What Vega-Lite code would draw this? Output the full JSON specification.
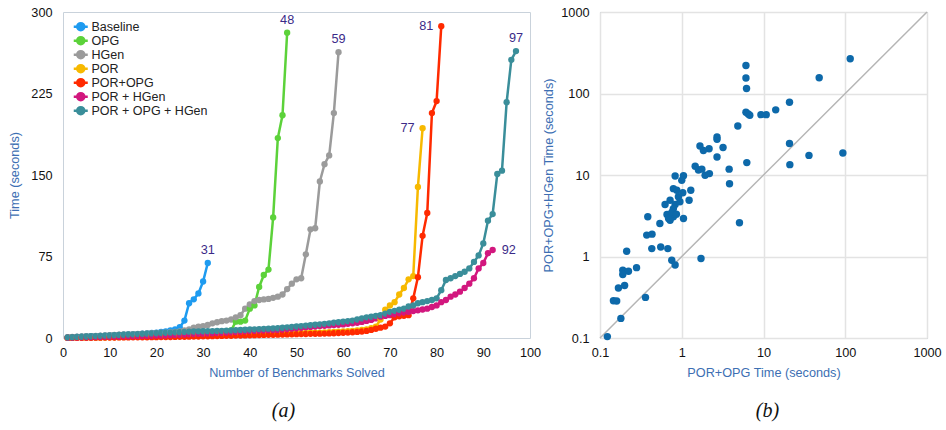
{
"$schema": "https://vega.github.io/schema/vega-lite/v6.json",
"background": "white",
"padding": {"left": 8, "top": 5, "right": 0, "bottom": 0},
"spacing": 0,
"resolve": {"scale": {"color": "independent"}, "legend": {"color": "independent"}},
"config": {
  "font": "Liberation Sans",
  "axis": {"labelFont": "Liberation Sans", "labelFontSize": 12.7, "labelColor": "#111111", "titleFont": "Liberation Sans", "titleFontSize": 12.7, "titleFontWeight": "normal", "titleColor": "#3d6fb3", "domain": false, "ticks": false, "grid": false, "labelPadding": 10, "titlePadding": 9, "labelFlush": false, "labelOverlap": false}
},
"datasets": {
"cactus": [
{"series":"Baseline","n":1,"t":0.5},{"series":"Baseline","n":2,"t":0.8},{"series":"Baseline","n":3,"t":1},{"series":"Baseline","n":4,"t":1.2},{"series":"Baseline","n":5,"t":1.4},{"series":"Baseline","n":6,"t":1.6},{"series":"Baseline","n":7,"t":1.8},{"series":"Baseline","n":8,"t":2},{"series":"Baseline","n":9,"t":2.2},{"series":"Baseline","n":10,"t":2.4},{"series":"Baseline","n":11,"t":2.6},{"series":"Baseline","n":12,"t":2.8},{"series":"Baseline","n":13,"t":3},{"series":"Baseline","n":14,"t":3.2},{"series":"Baseline","n":15,"t":3.4},{"series":"Baseline","n":16,"t":3.6},{"series":"Baseline","n":17,"t":3.9},{"series":"Baseline","n":18,"t":4.2},{"series":"Baseline","n":19,"t":4.6},{"series":"Baseline","n":20,"t":5},{"series":"Baseline","n":21,"t":5.5},{"series":"Baseline","n":22,"t":6},{"series":"Baseline","n":23,"t":7},{"series":"Baseline","n":24,"t":8},{"series":"Baseline","n":25,"t":10},{"series":"Baseline","n":26,"t":16},{"series":"Baseline","n":27,"t":32},{"series":"Baseline","n":28,"t":35.6},{"series":"Baseline","n":29,"t":41},{"series":"Baseline","n":30,"t":52},{"series":"Baseline","n":31,"t":69},
{"series":"OPG","n":1,"t":0.2},{"series":"OPG","n":2,"t":0.3},{"series":"OPG","n":3,"t":0.4},{"series":"OPG","n":4,"t":0.5},{"series":"OPG","n":5,"t":0.5},{"series":"OPG","n":6,"t":0.6},{"series":"OPG","n":7,"t":0.7},{"series":"OPG","n":8,"t":0.8},{"series":"OPG","n":9,"t":0.9},{"series":"OPG","n":10,"t":1},{"series":"OPG","n":11,"t":1.1},{"series":"OPG","n":12,"t":1.2},{"series":"OPG","n":13,"t":1.3},{"series":"OPG","n":14,"t":1.4},{"series":"OPG","n":15,"t":1.5},{"series":"OPG","n":16,"t":1.6},{"series":"OPG","n":17,"t":1.7},{"series":"OPG","n":18,"t":1.8},{"series":"OPG","n":19,"t":2},{"series":"OPG","n":20,"t":2.2},{"series":"OPG","n":21,"t":2.4},{"series":"OPG","n":22,"t":2.6},{"series":"OPG","n":23,"t":2.8},{"series":"OPG","n":24,"t":3},{"series":"OPG","n":25,"t":3.2},{"series":"OPG","n":26,"t":3.4},{"series":"OPG","n":27,"t":3.6},{"series":"OPG","n":28,"t":3.8},{"series":"OPG","n":29,"t":4},{"series":"OPG","n":30,"t":4.2},{"series":"OPG","n":31,"t":4.4},{"series":"OPG","n":32,"t":4.6},{"series":"OPG","n":33,"t":4.8},{"series":"OPG","n":34,"t":5},{"series":"OPG","n":35,"t":5.4},{"series":"OPG","n":36,"t":7},{"series":"OPG","n":37,"t":15},{"series":"OPG","n":38,"t":15},{"series":"OPG","n":39,"t":16},{"series":"OPG","n":40,"t":27},{"series":"OPG","n":41,"t":30},{"series":"OPG","n":42,"t":47},{"series":"OPG","n":43,"t":58},{"series":"OPG","n":44,"t":63},{"series":"OPG","n":45,"t":111},{"series":"OPG","n":46,"t":184},{"series":"OPG","n":47,"t":205},{"series":"OPG","n":48,"t":281},
{"series":"HGen","n":1,"t":0.8},{"series":"HGen","n":2,"t":1},{"series":"HGen","n":3,"t":1.2},{"series":"HGen","n":4,"t":1.4},{"series":"HGen","n":5,"t":1.6},{"series":"HGen","n":6,"t":1.8},{"series":"HGen","n":7,"t":2},{"series":"HGen","n":8,"t":2.2},{"series":"HGen","n":9,"t":2.4},{"series":"HGen","n":10,"t":2.6},{"series":"HGen","n":11,"t":2.8},{"series":"HGen","n":12,"t":3},{"series":"HGen","n":13,"t":3.2},{"series":"HGen","n":14,"t":3.4},{"series":"HGen","n":15,"t":3.6},{"series":"HGen","n":16,"t":3.8},{"series":"HGen","n":17,"t":4},{"series":"HGen","n":18,"t":4.2},{"series":"HGen","n":19,"t":4.4},{"series":"HGen","n":20,"t":4.6},{"series":"HGen","n":21,"t":4.8},{"series":"HGen","n":22,"t":5},{"series":"HGen","n":23,"t":5.3},{"series":"HGen","n":24,"t":5.6},{"series":"HGen","n":25,"t":6},{"series":"HGen","n":26,"t":7},{"series":"HGen","n":27,"t":8},{"series":"HGen","n":28,"t":9.5},{"series":"HGen","n":29,"t":10.5},{"series":"HGen","n":30,"t":11},{"series":"HGen","n":31,"t":12},{"series":"HGen","n":32,"t":13.5},{"series":"HGen","n":33,"t":14.5},{"series":"HGen","n":34,"t":15.5},{"series":"HGen","n":35,"t":16},{"series":"HGen","n":36,"t":17},{"series":"HGen","n":37,"t":19},{"series":"HGen","n":38,"t":21},{"series":"HGen","n":39,"t":27},{"series":"HGen","n":40,"t":31},{"series":"HGen","n":41,"t":34},{"series":"HGen","n":42,"t":35},{"series":"HGen","n":43,"t":35.5},{"series":"HGen","n":44,"t":36},{"series":"HGen","n":45,"t":37},{"series":"HGen","n":46,"t":38},{"series":"HGen","n":47,"t":40},{"series":"HGen","n":48,"t":45},{"series":"HGen","n":49,"t":50},{"series":"HGen","n":50,"t":54},{"series":"HGen","n":51,"t":55},{"series":"HGen","n":52,"t":77},{"series":"HGen","n":53,"t":100},{"series":"HGen","n":54,"t":101},{"series":"HGen","n":55,"t":144},{"series":"HGen","n":56,"t":160},{"series":"HGen","n":57,"t":168},{"series":"HGen","n":58,"t":207},{"series":"HGen","n":59,"t":263},
{"series":"POR","n":1,"t":0.1},{"series":"POR","n":2,"t":0.2},{"series":"POR","n":3,"t":0.2},{"series":"POR","n":4,"t":0.3},{"series":"POR","n":5,"t":0.3},{"series":"POR","n":6,"t":0.4},{"series":"POR","n":7,"t":0.4},{"series":"POR","n":8,"t":0.5},{"series":"POR","n":9,"t":0.5},{"series":"POR","n":10,"t":0.6},{"series":"POR","n":11,"t":0.7},{"series":"POR","n":12,"t":0.8},{"series":"POR","n":13,"t":0.9},{"series":"POR","n":14,"t":1},{"series":"POR","n":15,"t":1},{"series":"POR","n":16,"t":1.1},{"series":"POR","n":17,"t":1.2},{"series":"POR","n":18,"t":1.3},{"series":"POR","n":19,"t":1.4},{"series":"POR","n":20,"t":1.5},{"series":"POR","n":21,"t":1.6},{"series":"POR","n":22,"t":1.7},{"series":"POR","n":23,"t":1.8},{"series":"POR","n":24,"t":1.9},{"series":"POR","n":25,"t":2},{"series":"POR","n":26,"t":2.1},{"series":"POR","n":27,"t":2.2},{"series":"POR","n":28,"t":2.3},{"series":"POR","n":29,"t":2.4},{"series":"POR","n":30,"t":2.5},{"series":"POR","n":31,"t":2.6},{"series":"POR","n":32,"t":2.7},{"series":"POR","n":33,"t":2.8},{"series":"POR","n":34,"t":2.9},{"series":"POR","n":35,"t":3},{"series":"POR","n":36,"t":3.1},{"series":"POR","n":37,"t":3.2},{"series":"POR","n":38,"t":3.3},{"series":"POR","n":39,"t":3.4},{"series":"POR","n":40,"t":3.5},{"series":"POR","n":41,"t":3.6},{"series":"POR","n":42,"t":3.7},{"series":"POR","n":43,"t":3.8},{"series":"POR","n":44,"t":3.9},{"series":"POR","n":45,"t":4},{"series":"POR","n":46,"t":4.1},{"series":"POR","n":47,"t":4.2},{"series":"POR","n":48,"t":4.3},{"series":"POR","n":49,"t":4.4},{"series":"POR","n":50,"t":4.5},{"series":"POR","n":51,"t":4.6},{"series":"POR","n":52,"t":4.7},{"series":"POR","n":53,"t":4.8},{"series":"POR","n":54,"t":4.9},{"series":"POR","n":55,"t":5},{"series":"POR","n":56,"t":5.2},{"series":"POR","n":57,"t":5.4},{"series":"POR","n":58,"t":5.6},{"series":"POR","n":59,"t":5.8},{"series":"POR","n":60,"t":6},{"series":"POR","n":61,"t":6.3},{"series":"POR","n":62,"t":6.6},{"series":"POR","n":63,"t":7},{"series":"POR","n":64,"t":7.5},{"series":"POR","n":65,"t":8},{"series":"POR","n":66,"t":9},{"series":"POR","n":67,"t":10.5},{"series":"POR","n":68,"t":17},{"series":"POR","n":69,"t":26},{"series":"POR","n":70,"t":30},{"series":"POR","n":71,"t":33},{"series":"POR","n":72,"t":40},{"series":"POR","n":73,"t":46},{"series":"POR","n":74,"t":54},{"series":"POR","n":75,"t":57},{"series":"POR","n":76,"t":139},{"series":"POR","n":77,"t":193},
{"series":"POR+OPG","n":1,"t":0.1},{"series":"POR+OPG","n":2,"t":0.1},{"series":"POR+OPG","n":3,"t":0.15},{"series":"POR+OPG","n":4,"t":0.2},{"series":"POR+OPG","n":5,"t":0.2},{"series":"POR+OPG","n":6,"t":0.25},{"series":"POR+OPG","n":7,"t":0.3},{"series":"POR+OPG","n":8,"t":0.3},{"series":"POR+OPG","n":9,"t":0.35},{"series":"POR+OPG","n":10,"t":0.4},{"series":"POR+OPG","n":11,"t":0.45},{"series":"POR+OPG","n":12,"t":0.5},{"series":"POR+OPG","n":13,"t":0.5},{"series":"POR+OPG","n":14,"t":0.55},{"series":"POR+OPG","n":15,"t":0.6},{"series":"POR+OPG","n":16,"t":0.65},{"series":"POR+OPG","n":17,"t":0.7},{"series":"POR+OPG","n":18,"t":0.7},{"series":"POR+OPG","n":19,"t":0.75},{"series":"POR+OPG","n":20,"t":0.8},{"series":"POR+OPG","n":21,"t":0.85},{"series":"POR+OPG","n":22,"t":0.9},{"series":"POR+OPG","n":23,"t":0.95},{"series":"POR+OPG","n":24,"t":1},{"series":"POR+OPG","n":25,"t":1.05},{"series":"POR+OPG","n":26,"t":1.1},{"series":"POR+OPG","n":27,"t":1.2},{"series":"POR+OPG","n":28,"t":1.3},{"series":"POR+OPG","n":29,"t":1.4},{"series":"POR+OPG","n":30,"t":1.5},{"series":"POR+OPG","n":31,"t":1.6},{"series":"POR+OPG","n":32,"t":1.7},{"series":"POR+OPG","n":33,"t":1.8},{"series":"POR+OPG","n":34,"t":1.9},{"series":"POR+OPG","n":35,"t":2},{"series":"POR+OPG","n":36,"t":2.1},{"series":"POR+OPG","n":37,"t":2.2},{"series":"POR+OPG","n":38,"t":2.3},{"series":"POR+OPG","n":39,"t":2.4},{"series":"POR+OPG","n":40,"t":2.5},{"series":"POR+OPG","n":41,"t":2.6},{"series":"POR+OPG","n":42,"t":2.7},{"series":"POR+OPG","n":43,"t":2.8},{"series":"POR+OPG","n":44,"t":2.9},{"series":"POR+OPG","n":45,"t":3},{"series":"POR+OPG","n":46,"t":3.1},{"series":"POR+OPG","n":47,"t":3.2},{"series":"POR+OPG","n":48,"t":3.3},{"series":"POR+OPG","n":49,"t":3.4},{"series":"POR+OPG","n":50,"t":3.5},{"series":"POR+OPG","n":51,"t":3.6},{"series":"POR+OPG","n":52,"t":3.7},{"series":"POR+OPG","n":53,"t":3.8},{"series":"POR+OPG","n":54,"t":3.9},{"series":"POR+OPG","n":55,"t":4},{"series":"POR+OPG","n":56,"t":4.1},{"series":"POR+OPG","n":57,"t":4.2},{"series":"POR+OPG","n":58,"t":4.4},{"series":"POR+OPG","n":59,"t":4.6},{"series":"POR+OPG","n":60,"t":4.8},{"series":"POR+OPG","n":61,"t":5},{"series":"POR+OPG","n":62,"t":5.3},{"series":"POR+OPG","n":63,"t":5.6},{"series":"POR+OPG","n":64,"t":6},{"series":"POR+OPG","n":65,"t":6.5},{"series":"POR+OPG","n":66,"t":7.4},{"series":"POR+OPG","n":67,"t":8.5},{"series":"POR+OPG","n":68,"t":9.5},{"series":"POR+OPG","n":69,"t":10.5},{"series":"POR+OPG","n":70,"t":13.5},{"series":"POR+OPG","n":71,"t":19},{"series":"POR+OPG","n":72,"t":20},{"series":"POR+OPG","n":73,"t":20.5},{"series":"POR+OPG","n":74,"t":21},{"series":"POR+OPG","n":75,"t":36.5},{"series":"POR+OPG","n":76,"t":56},{"series":"POR+OPG","n":77,"t":94},{"series":"POR+OPG","n":78,"t":115},{"series":"POR+OPG","n":79,"t":207},{"series":"POR+OPG","n":80,"t":218},{"series":"POR+OPG","n":81,"t":287},
{"series":"POR + HGen","n":1,"t":0.3},{"series":"POR + HGen","n":2,"t":0.4},{"series":"POR + HGen","n":3,"t":0.5},{"series":"POR + HGen","n":4,"t":0.6},{"series":"POR + HGen","n":5,"t":0.7},{"series":"POR + HGen","n":6,"t":0.8},{"series":"POR + HGen","n":7,"t":0.9},{"series":"POR + HGen","n":8,"t":1},{"series":"POR + HGen","n":9,"t":1.1},{"series":"POR + HGen","n":10,"t":1.2},{"series":"POR + HGen","n":11,"t":1.3},{"series":"POR + HGen","n":12,"t":1.4},{"series":"POR + HGen","n":13,"t":1.5},{"series":"POR + HGen","n":14,"t":1.6},{"series":"POR + HGen","n":15,"t":1.7},{"series":"POR + HGen","n":16,"t":1.8},{"series":"POR + HGen","n":17,"t":1.9},{"series":"POR + HGen","n":18,"t":2},{"series":"POR + HGen","n":19,"t":2.1},{"series":"POR + HGen","n":20,"t":2.2},{"series":"POR + HGen","n":21,"t":2.3},{"series":"POR + HGen","n":22,"t":2.4},{"series":"POR + HGen","n":23,"t":2.6},{"series":"POR + HGen","n":24,"t":2.8},{"series":"POR + HGen","n":25,"t":3},{"series":"POR + HGen","n":26,"t":3.2},{"series":"POR + HGen","n":27,"t":3.4},{"series":"POR + HGen","n":28,"t":3.6},{"series":"POR + HGen","n":29,"t":3.8},{"series":"POR + HGen","n":30,"t":4},{"series":"POR + HGen","n":31,"t":4.2},{"series":"POR + HGen","n":32,"t":4.4},{"series":"POR + HGen","n":33,"t":4.6},{"series":"POR + HGen","n":34,"t":4.8},{"series":"POR + HGen","n":35,"t":5},{"series":"POR + HGen","n":36,"t":5.2},{"series":"POR + HGen","n":37,"t":5.5},{"series":"POR + HGen","n":38,"t":5.8},{"series":"POR + HGen","n":39,"t":6.1},{"series":"POR + HGen","n":40,"t":6.4},{"series":"POR + HGen","n":41,"t":6.6},{"series":"POR + HGen","n":42,"t":6.8},{"series":"POR + HGen","n":43,"t":7},{"series":"POR + HGen","n":44,"t":7.2},{"series":"POR + HGen","n":45,"t":7.3},{"series":"POR + HGen","n":46,"t":7.4},{"series":"POR + HGen","n":47,"t":7.8},{"series":"POR + HGen","n":48,"t":8.2},{"series":"POR + HGen","n":49,"t":8.6},{"series":"POR + HGen","n":50,"t":9},{"series":"POR + HGen","n":51,"t":9.4},{"series":"POR + HGen","n":52,"t":9.8},{"series":"POR + HGen","n":53,"t":10.2},{"series":"POR + HGen","n":54,"t":10.6},{"series":"POR + HGen","n":55,"t":11},{"series":"POR + HGen","n":56,"t":11.3},{"series":"POR + HGen","n":57,"t":11.6},{"series":"POR + HGen","n":58,"t":11.9},{"series":"POR + HGen","n":59,"t":12.2},{"series":"POR + HGen","n":60,"t":12.5},{"series":"POR + HGen","n":61,"t":13},{"series":"POR + HGen","n":62,"t":13.5},{"series":"POR + HGen","n":63,"t":14},{"series":"POR + HGen","n":64,"t":14.8},{"series":"POR + HGen","n":65,"t":15.7},{"series":"POR + HGen","n":66,"t":16.6},{"series":"POR + HGen","n":67,"t":18},{"series":"POR + HGen","n":68,"t":19.6},{"series":"POR + HGen","n":69,"t":20.3},{"series":"POR + HGen","n":70,"t":21},{"series":"POR + HGen","n":71,"t":21.8},{"series":"POR + HGen","n":72,"t":22.7},{"series":"POR + HGen","n":73,"t":23.4},{"series":"POR + HGen","n":74,"t":24},{"series":"POR + HGen","n":75,"t":24.8},{"series":"POR + HGen","n":76,"t":25.5},{"series":"POR + HGen","n":77,"t":26.2},{"series":"POR + HGen","n":78,"t":27},{"series":"POR + HGen","n":79,"t":28.5},{"series":"POR + HGen","n":80,"t":30},{"series":"POR + HGen","n":81,"t":33},{"series":"POR + HGen","n":82,"t":35},{"series":"POR + HGen","n":83,"t":38},{"series":"POR + HGen","n":84,"t":40},{"series":"POR + HGen","n":85,"t":42.6},{"series":"POR + HGen","n":86,"t":46},{"series":"POR + HGen","n":87,"t":50},{"series":"POR + HGen","n":88,"t":55},{"series":"POR + HGen","n":89,"t":64},{"series":"POR + HGen","n":90,"t":69},{"series":"POR + HGen","n":91,"t":78},{"series":"POR + HGen","n":92,"t":81},
{"series":"POR + OPG + HGen","n":1,"t":0.5},{"series":"POR + OPG + HGen","n":2,"t":0.8},{"series":"POR + OPG + HGen","n":3,"t":1},{"series":"POR + OPG + HGen","n":4,"t":1.2},{"series":"POR + OPG + HGen","n":5,"t":1.4},{"series":"POR + OPG + HGen","n":6,"t":1.6},{"series":"POR + OPG + HGen","n":7,"t":1.8},{"series":"POR + OPG + HGen","n":8,"t":2},{"series":"POR + OPG + HGen","n":9,"t":2.2},{"series":"POR + OPG + HGen","n":10,"t":2.4},{"series":"POR + OPG + HGen","n":11,"t":2.6},{"series":"POR + OPG + HGen","n":12,"t":2.8},{"series":"POR + OPG + HGen","n":13,"t":3},{"series":"POR + OPG + HGen","n":14,"t":3.2},{"series":"POR + OPG + HGen","n":15,"t":3.4},{"series":"POR + OPG + HGen","n":16,"t":3.6},{"series":"POR + OPG + HGen","n":17,"t":3.8},{"series":"POR + OPG + HGen","n":18,"t":4},{"series":"POR + OPG + HGen","n":19,"t":4.2},{"series":"POR + OPG + HGen","n":20,"t":4.4},{"series":"POR + OPG + HGen","n":21,"t":4.6},{"series":"POR + OPG + HGen","n":22,"t":4.8},{"series":"POR + OPG + HGen","n":23,"t":5},{"series":"POR + OPG + HGen","n":24,"t":5.2},{"series":"POR + OPG + HGen","n":25,"t":5.4},{"series":"POR + OPG + HGen","n":26,"t":5.6},{"series":"POR + OPG + HGen","n":27,"t":5.8},{"series":"POR + OPG + HGen","n":28,"t":6},{"series":"POR + OPG + HGen","n":29,"t":6.1},{"series":"POR + OPG + HGen","n":30,"t":6.2},{"series":"POR + OPG + HGen","n":31,"t":6.3},{"series":"POR + OPG + HGen","n":32,"t":6.4},{"series":"POR + OPG + HGen","n":33,"t":6.5},{"series":"POR + OPG + HGen","n":34,"t":6.6},{"series":"POR + OPG + HGen","n":35,"t":6.8},{"series":"POR + OPG + HGen","n":36,"t":7},{"series":"POR + OPG + HGen","n":37,"t":7.2},{"series":"POR + OPG + HGen","n":38,"t":7.4},{"series":"POR + OPG + HGen","n":39,"t":7.6},{"series":"POR + OPG + HGen","n":40,"t":7.8},{"series":"POR + OPG + HGen","n":41,"t":8},{"series":"POR + OPG + HGen","n":42,"t":8.2},{"series":"POR + OPG + HGen","n":43,"t":8.4},{"series":"POR + OPG + HGen","n":44,"t":8.6},{"series":"POR + OPG + HGen","n":45,"t":8.8},{"series":"POR + OPG + HGen","n":46,"t":9},{"series":"POR + OPG + HGen","n":47,"t":9.4},{"series":"POR + OPG + HGen","n":48,"t":9.8},{"series":"POR + OPG + HGen","n":49,"t":10.2},{"series":"POR + OPG + HGen","n":50,"t":10.6},{"series":"POR + OPG + HGen","n":51,"t":11},{"series":"POR + OPG + HGen","n":52,"t":11.4},{"series":"POR + OPG + HGen","n":53,"t":11.8},{"series":"POR + OPG + HGen","n":54,"t":12.2},{"series":"POR + OPG + HGen","n":55,"t":12.6},{"series":"POR + OPG + HGen","n":56,"t":13},{"series":"POR + OPG + HGen","n":57,"t":13.5},{"series":"POR + OPG + HGen","n":58,"t":14},{"series":"POR + OPG + HGen","n":59,"t":14.5},{"series":"POR + OPG + HGen","n":60,"t":15},{"series":"POR + OPG + HGen","n":61,"t":15.5},{"series":"POR + OPG + HGen","n":62,"t":16},{"series":"POR + OPG + HGen","n":63,"t":17},{"series":"POR + OPG + HGen","n":64,"t":18},{"series":"POR + OPG + HGen","n":65,"t":19},{"series":"POR + OPG + HGen","n":66,"t":19.6},{"series":"POR + OPG + HGen","n":67,"t":20.3},{"series":"POR + OPG + HGen","n":68,"t":21},{"series":"POR + OPG + HGen","n":69,"t":22.5},{"series":"POR + OPG + HGen","n":70,"t":24},{"series":"POR + OPG + HGen","n":71,"t":25},{"series":"POR + OPG + HGen","n":72,"t":26},{"series":"POR + OPG + HGen","n":73,"t":27},{"series":"POR + OPG + HGen","n":74,"t":29},{"series":"POR + OPG + HGen","n":75,"t":30},{"series":"POR + OPG + HGen","n":76,"t":32},{"series":"POR + OPG + HGen","n":77,"t":33},{"series":"POR + OPG + HGen","n":78,"t":34},{"series":"POR + OPG + HGen","n":79,"t":35},{"series":"POR + OPG + HGen","n":80,"t":36.5},{"series":"POR + OPG + HGen","n":81,"t":44},{"series":"POR + OPG + HGen","n":82,"t":53.4},{"series":"POR + OPG + HGen","n":83,"t":55},{"series":"POR + OPG + HGen","n":84,"t":57},{"series":"POR + OPG + HGen","n":85,"t":59},{"series":"POR + OPG + HGen","n":86,"t":61},{"series":"POR + OPG + HGen","n":87,"t":64},{"series":"POR + OPG + HGen","n":88,"t":70},{"series":"POR + OPG + HGen","n":89,"t":76},{"series":"POR + OPG + HGen","n":90,"t":87},{"series":"POR + OPG + HGen","n":91,"t":108},{"series":"POR + OPG + HGen","n":92,"t":114},{"series":"POR + OPG + HGen","n":93,"t":151},{"series":"POR + OPG + HGen","n":94,"t":154},{"series":"POR + OPG + HGen","n":95,"t":217},{"series":"POR + OPG + HGen","n":96,"t":256},{"series":"POR + OPG + HGen","n":97,"t":264}
],
"ends": [
{"series":"Baseline","n":31,"t":69},{"series":"OPG","n":48,"t":281},{"series":"HGen","n":59,"t":263},{"series":"POR","n":77,"t":193},{"series":"POR+OPG","n":81,"t":287},{"series":"POR + HGen","n":92,"t":81},{"series":"POR + OPG + HGen","n":97,"t":264}
],
"scatter": [
{"x":115,"y":267},{"x":48,"y":156},{"x":20.8,"y":78},{"x":14.1,"y":63},{"x":10.8,"y":55},{"x":9.3,"y":55},{"x":6.1,"y":221},{"x":6.1,"y":155},{"x":6.2,"y":115},{"x":6.1,"y":59},{"x":6.5,"y":56},{"x":6.8,"y":54},{"x":4.85,"y":40},{"x":20.8,"y":24.3},{"x":21,"y":13.4},{"x":36,"y":17.4},{"x":93.5,"y":18.6},{"x":6.25,"y":14.2},{"x":3.8,"y":11.8},{"x":3.84,"y":7.8},{"x":3.2,"y":21.7},{"x":2.7,"y":29.3},{"x":2.7,"y":27.5},{"x":2.7,"y":16.6},{"x":2.16,"y":21},{"x":1.84,"y":20},{"x":1.67,"y":22.7},{"x":1.46,"y":12.8},{"x":1.6,"y":11.5},{"x":1.76,"y":11.8},{"x":1.93,"y":9.95},{"x":2.18,"y":10.4},{"x":0.83,"y":9.7},{"x":1.05,"y":9.8},{"x":1.0,"y":8.6},{"x":0.79,"y":6.8},{"x":0.87,"y":6.5},{"x":1.03,"y":6.05},{"x":1.29,"y":6.5},{"x":0.72,"y":4.9},{"x":0.91,"y":5.4},{"x":1.23,"y":4.9},{"x":0.625,"y":4.34},{"x":0.83,"y":4.34},{"x":0.66,"y":3.27},{"x":0.69,"y":2.92},{"x":0.79,"y":3.07},{"x":0.72,"y":2.79},{"x":0.79,"y":3.87},{"x":1.05,"y":2.92},{"x":0.384,"y":3.07},{"x":0.54,"y":2.54},{"x":0.373,"y":1.83},{"x":0.433,"y":1.88},{"x":0.43,"y":1.25},{"x":0.553,"y":1.31},{"x":0.675,"y":1.25},{"x":0.212,"y":1.16},{"x":0.755,"y":0.9},{"x":0.83,"y":0.785},{"x":1.72,"y":0.946},{"x":5.08,"y":2.59},{"x":0.19,"y":0.68},{"x":0.223,"y":0.66},{"x":0.19,"y":0.6},{"x":0.28,"y":0.73},{"x":0.168,"y":0.41},{"x":0.2,"y":0.44},{"x":0.146,"y":0.286},{"x":0.16,"y":0.284},{"x":0.36,"y":0.315},{"x":0.18,"y":0.174},{"x":0.123,"y":0.104},{"x":0.76,"y":3.5},{"x":0.95,"y":4.7},{"x":0.86,"y":3.3}
],
"diag": [{"x":0.1,"y":0.1},{"x":1000,"y":1000}]
},
"hconcat": [
{
  "name": "a",
  "width": 467, "height": 326,
  "view": {"stroke": "#c9d2db"},
  "title": {"text": "(a)", "orient": "bottom", "font": "Liberation Serif", "fontStyle": "italic", "fontSize": 20, "fontWeight": "normal", "color": "#111111", "offset": 22, "dx": -13},
  "encoding": {
    "x": {"field": "n", "type": "quantitative", "scale": {"domain": [0, 100], "nice": false}, "axis": {"values": [0,10,20,30,40,50,60,70,80,90,100], "title": "Number of Benchmarks Solved", "labelPadding": 8, "titlePadding": 8}},
    "y": {"field": "t", "type": "quantitative", "scale": {"domain": [0, 300], "nice": false}, "axis": {"values": [0,75,150,225,300], "title": "Time (seconds)", "labelPadding": 11}}
  },
  "layer": [
    {
      "data": {"name": "cactus"},
      "mark": {"type": "line", "strokeWidth": 2.5, "point": {"filled": true, "size": 40, "opacity": 1}},
      "encoding": {
        "color": {"field": "series", "type": "nominal",
          "scale": {"domain": ["Baseline","OPG","HGen","POR","POR+OPG","POR + HGen","POR + OPG + HGen"], "range": ["#1e9bf0","#5cd23a","#9b9b9b","#f7b900","#ff2a00","#d2177e","#3a8e9a"]},
          "legend": {"title": null, "orient": "top-left", "offset": 8, "padding": 0, "labelFont": "Liberation Sans", "labelFontSize": 12.5, "labelColor": "#222222", "labelOffset": 8, "rowPadding": 0, "clipHeight": 13.3, "symbolSize": 49, "symbolStrokeWidth": 2.5, "symbolType": "M-1,0H3M0,0A1,1 0 1,0 2,0A1,1 0 1,0 0,0Z",
            "encode": {"symbols": {"update": {"fill": {"scale": "a_color", "field": "value"}, "stroke": {"scale": "a_color", "field": "value"}}}}},
          "sort": null
        },
        "order": {"field": "n"}
      }
    },
    {
      "data": {"name": "ends"},
      "transform": [{"filter": {"field": "series", "oneOf": ["Baseline","OPG","HGen","POR + OPG + HGen"]}}],
      "mark": {"type": "text", "align": "center", "baseline": "bottom", "dy": -6, "fontSize": 12.7, "color": "#3b2a88"},
      "encoding": {"text": {"field": "n"}}
    },
    {
      "data": {"name": "ends"},
      "transform": [{"filter": {"field": "series", "oneOf": ["POR","POR+OPG"]}}],
      "mark": {"type": "text", "align": "right", "baseline": "middle", "dx": -8, "fontSize": 12.7, "color": "#3b2a88"},
      "encoding": {"text": {"field": "n"}}
    },
    {
      "data": {"name": "ends"},
      "transform": [{"filter": {"field": "series", "oneOf": ["POR + HGen"]}}],
      "mark": {"type": "text", "align": "left", "baseline": "middle", "dx": 9, "fontSize": 12.7, "color": "#3b2a88"},
      "encoding": {"text": {"field": "n"}}
    }
  ]
},
{
  "width": 327, "height": 326,
  "view": {"stroke": "#a5b1bb"},
  "title": {"text": "(b)", "orient": "bottom", "font": "Liberation Serif", "fontStyle": "italic", "fontSize": 20, "fontWeight": "normal", "color": "#111111", "offset": 22, "dx": 4},
  "encoding": {
    "x": {"field": "x", "type": "quantitative", "scale": {"type": "log", "domain": [0.1, 1000], "nice": false}, "axis": {"values": [0.1,1,10,100,1000], "format": "~g", "grid": true, "gridColor": "#e3e3e3", "gridWidth": 1.5, "title": "POR+OPG Time (seconds)", "labelPadding": 8, "titlePadding": 8}},
    "y": {"field": "y", "type": "quantitative", "scale": {"type": "log", "domain": [0.1, 1000], "nice": false}, "axis": {"values": [0.1,1,10,100,1000], "format": "~g", "grid": true, "gridColor": "#e3e3e3", "gridWidth": 1.5, "title": "POR+OPG+HGen Time (seconds)", "labelPadding": 11, "titlePadding": 5}}
  },
  "layer": [
    {"data": {"name": "diag"}, "mark": {"type": "line", "color": "#b5b5b5", "strokeWidth": 1.5}},
    {"data": {"name": "scatter"}, "mark": {"type": "circle", "size": 55, "color": "#0d69aa", "opacity": 1}}
  ]
}
]
}
